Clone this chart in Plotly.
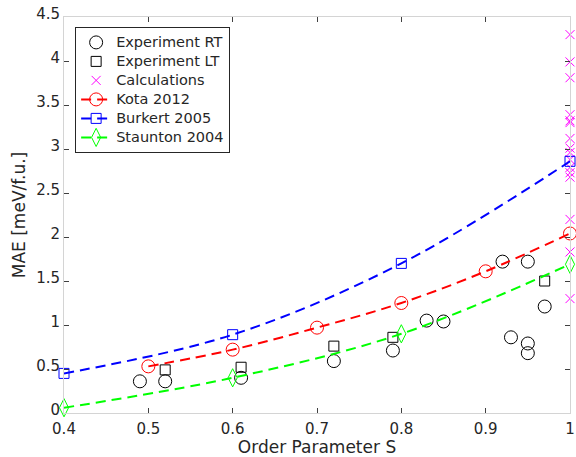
import plotly.graph_objects as go

# Experiment RT (circles)
rt_s = [0.49, 0.52, 0.61, 0.72, 0.79, 0.83, 0.85, 0.92, 0.93, 0.95, 0.95, 0.95, 0.97]
rt_mae = [0.36, 0.36, 0.40, 0.59, 0.71, 1.05, 1.04, 1.72, 0.86, 1.72, 0.79, 0.68, 1.21]

# Experiment LT (squares)
lt_s = [0.52, 0.61, 0.72, 0.79, 0.97]
lt_mae = [0.49, 0.52, 0.76, 0.86, 1.50]

# Calculations (x markers at S = 1)
calc_s = [1.0] * 16
calc_mae = [4.30, 3.99, 3.81, 3.39, 3.32, 3.30, 3.12, 3.01, 2.96, 2.88, 2.79, 2.73, 2.68, 2.20, 1.83, 1.30]

# Models
kota_s = [0.5, 0.6, 0.7, 0.8, 0.9, 1.0]
kota_mae = [0.53, 0.72, 0.97, 1.25, 1.61, 2.04]
burkert_s = [0.4, 0.6, 0.8, 1.0]
burkert_mae = [0.45, 0.89, 1.70, 2.86]
staunton_s = [0.4, 0.6, 0.8, 1.0]
staunton_mae = [0.06, 0.40, 0.90, 1.69]

series_names = ["Experiment RT", "Experiment LT", "Calculations", "Kota 2012", "Burkert 2005", "Staunton 2004"]

x_ticks = [0.4, 0.5, 0.6, 0.7, 0.8, 0.9, 1.0]
x_labels = ["0.4", "0.5", "0.6", "0.7", "0.8", "0.9", "1"]
y_ticks = [0, 0.5, 1, 1.5, 2, 2.5, 3, 3.5, 4, 4.5]
y_labels = ["0", "0.5", "1", "1.5", "2", "2.5", "3", "3.5", "4", "4.5"]

FONT = "DejaVu Sans, sans-serif"
TXT = "#262626"
dash = "10px,6px"


def lg(name):
    return '<span style="font-size:14.5px">' + name + "</span>"


fig = go.Figure()
fig.add_trace(go.Scatter(x=rt_s, y=rt_mae, mode="markers", name=lg(series_names[0]),
                         marker=dict(symbol="circle-open", size=13, color="black", line=dict(width=1)),
                         cliponaxis=False))
fig.add_trace(go.Scatter(x=lt_s, y=lt_mae, mode="markers", name=lg(series_names[1]),
                         marker=dict(symbol="square-open", size=10, color="black", line=dict(width=1)),
                         cliponaxis=False))
fig.add_trace(go.Scatter(x=calc_s, y=calc_mae, mode="markers", name=lg(series_names[2]),
                         marker=dict(symbol="x-thin-open", size=9, color="#ff00ff", line=dict(width=1, color="#ff00ff")),
                         cliponaxis=False))
fig.add_trace(go.Scatter(x=kota_s, y=kota_mae, mode="lines+markers", name=lg(series_names[3]),
                         line=dict(color="#ff0000", width=2, dash=dash, shape="spline"),
                         marker=dict(symbol="circle-open", size=13, color="#ff0000", line=dict(width=1)),
                         cliponaxis=False))
fig.add_trace(go.Scatter(x=burkert_s, y=burkert_mae, mode="lines+markers", name=lg(series_names[4]),
                         line=dict(color="#0000ff", width=2, dash=dash, shape="spline"),
                         marker=dict(symbol="square-open", size=10, color="#0000ff", line=dict(width=1)),
                         cliponaxis=False))
fig.add_trace(go.Scatter(x=staunton_s, y=staunton_mae, mode="lines+markers", name=lg(series_names[5]),
                         line=dict(color="#00ff00", width=2, dash=dash, shape="spline"),
                         marker=dict(symbol="diamond-tall-open", size=13, color="#00ff00", line=dict(width=1)),
                         cliponaxis=False))

axis_common = dict(
    showgrid=False, zeroline=False, showline=True, linecolor="#d4d4d4", linewidth=1,
    mirror="ticks", ticks="inside", ticklen=5, tickcolor="#404040", tickwidth=1,
    tickfont=dict(family=FONT, size=15, color=TXT),
)

fig.update_xaxes(range=[0.4, 1.0], tickvals=x_ticks, ticktext=x_labels, ticklabelstandoff=2,
                 automargin=False,
                 title=dict(text="Order Parameter S", font=dict(family=FONT, size=17, color=TXT)),
                 **axis_common)
fig.update_yaxes(range=[0, 4.5], tickvals=y_ticks, ticktext=y_labels, automargin=True,
                 ticklabelshift=-3,
                 title=dict(text="MAE [meV/f.u.]", font=dict(family=FONT, size=17, color=TXT), standoff=6),
                 **axis_common)

fig.update_layout(
    width=576, height=457,
    margin=dict(l=64, r=5, t=15, b=44),
    paper_bgcolor="white", plot_bgcolor="white",
    font=dict(family=FONT, color=TXT),
    legend=dict(x=0.022, y=0.975, xanchor="left", yanchor="top",
                bgcolor="white", bordercolor=TXT, borderwidth=1,
                font=dict(family=FONT, size=12, color=TXT),
                tracegroupgap=0, itemwidth=30),
    showlegend=True,
)

fig.write_html("out.html")
